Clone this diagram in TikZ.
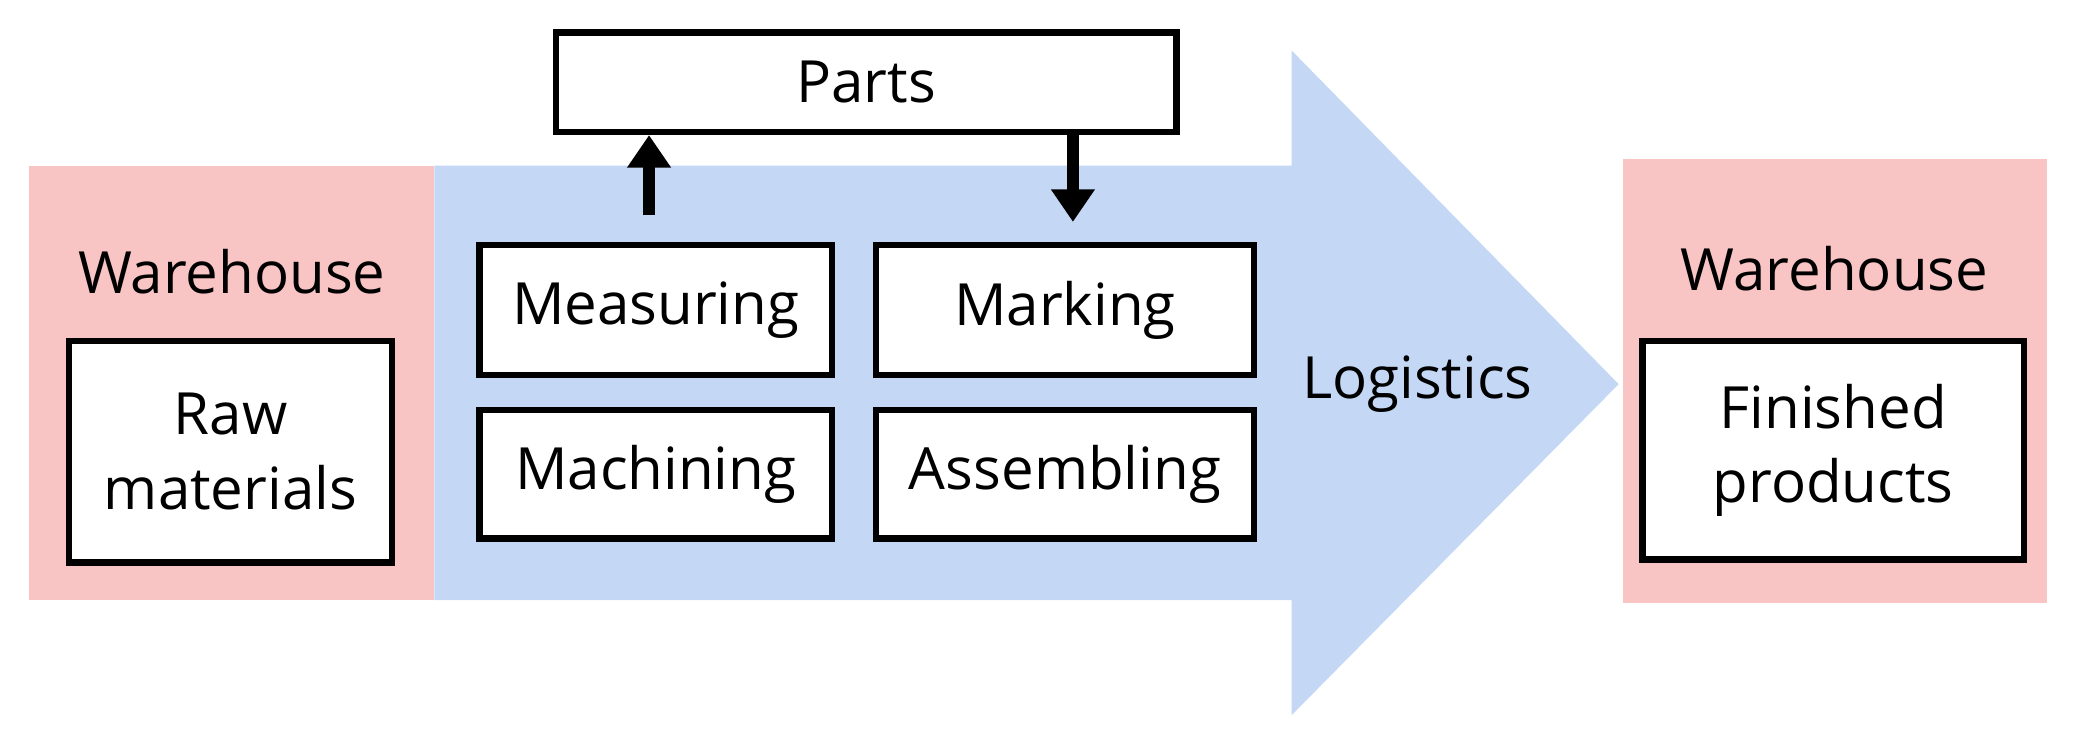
\documentclass[tikz,border=0pt]{standalone}
\usepackage{fontspec}
\setmainfont{Open Sans}
\usetikzlibrary{arrows.meta}
\usetikzlibrary{positioning}
\definecolor{store}{RGB}{248,196,196}
\definecolor{flow}{RGB}{196,216,246}
\tikzset{
	stage/.style={draw=black, line width=1.4pt, fill=white, align=center, inner sep=0pt, font=\fontsize{12.5}{16}\selectfont},
	tag/.style={font=\fontsize{12.5}{16}\selectfont},
	move/.style={line width=2.6pt, -{Triangle[width=9pt,length=7pt]}}
}

\begin{document}
\begin{tikzpicture}[x=0.01cm, y=-0.01cm]
	\useasboundingbox (0,0) rectangle (1568,569);

	% Logistics arrow
	\fill[flow] (328,125) -- (975,125) -- (975,38) -- (1222,290) -- (975,540) -- (975,453) -- (328,453) -- cycle;
	\node[tag] (logi) at (1070,290) {Logistics};

	% left warehouse
	\fill[store] (22,125) rectangle (328,453);
	\node[tag] (whl) at (175,205) {Warehouse};
	\node[stage, minimum width=2.44cm, minimum height=1.67cm] (raw) at (174,341) {Raw\\materials};

	% right warehouse
	\fill[store] (1225,120) rectangle (1545,455);
	\node[tag] (whr) at (1385,203) {Warehouse};
	\node[stage, minimum width=2.88cm, minimum height=1.65cm] (fin) at (1384,340) {Finished\\products};

	% processes
	\node[stage, minimum width=2.66cm, minimum height=0.98cm] (meas) at (495,234) {Measuring};
	\node[stage, minimum width=2.85cm, minimum height=0.98cm] (mark) at (804,234) {Marking};
	\node[stage, minimum width=2.66cm, minimum height=0.97cm] (mach) at (495,358) {Machining};
	\node[stage, minimum width=2.85cm, minimum height=0.97cm] (asm) at (804,358) {Assembling};

	% parts
	\node[stage, minimum width=4.68cm, minimum height=0.75cm] (parts) at (654,62) {Parts};
	\draw[move, shorten <=0.2cm] ([xshift=-0.05cm]meas.north) -- ([xshift=-0.05cm]meas.north |- parts.south);
	\draw[move, shorten >=0.15cm] ([xshift=0.06cm]mark.north |- parts.south) -- ([xshift=0.06cm]mark.north);

\end{tikzpicture}
\end{document}
